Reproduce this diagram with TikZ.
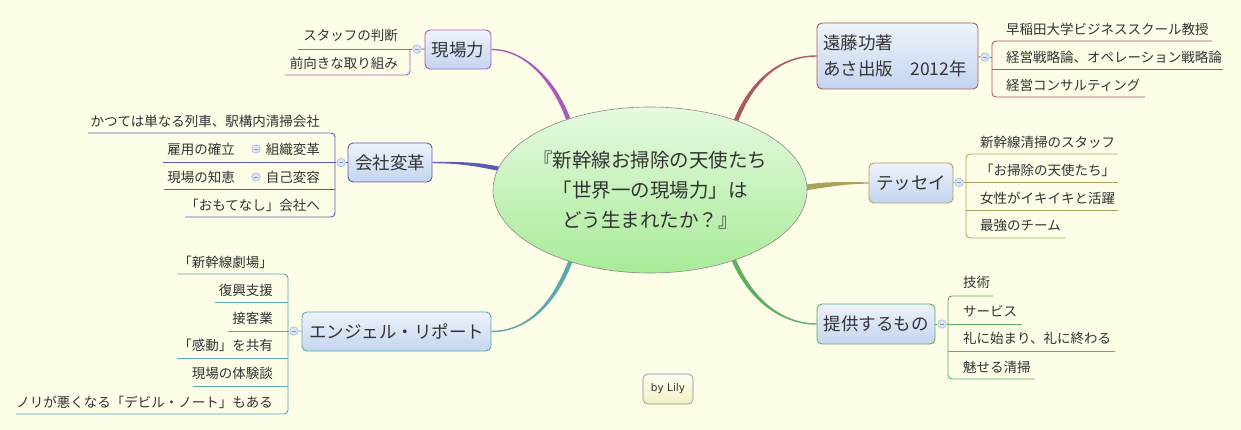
\documentclass[tikz,border=0pt]{standalone}
\usepackage{fontspec}
\newfontfamily\jp{Noto Sans CJK JP}
\newfontfamily\dv{DejaVu Sans}
\usetikzlibrary{shapes.geometric,calc}
\pgfdeclarelayer{back}
\pgfdeclarelayer{links}
\pgfsetlayers{back,links,main}
\definecolor{bgc}{HTML}{FDFDE8}
\definecolor{txt}{HTML}{333333}
\definecolor{boxtop}{HTML}{EEF3FC}
\definecolor{boxbot}{HTML}{C3D5F0}
\definecolor{cpur}{HTML}{A95BB8}
\definecolor{cred}{HTML}{AD5A5A}
\definecolor{cblu}{HTML}{5A5CB2}
\definecolor{coli}{HTML}{A8A45C}
\definecolor{ctea}{HTML}{5BA9A9}
\definecolor{cgre}{HTML}{5DAF5D}
\definecolor{colf}{HTML}{D9E4F6}
\definecolor{colb}{HTML}{A3BBE2}
\definecolor{colm}{HTML}{7E9BCB}
\definecolor{hubb}{HTML}{8A8A8A}
\definecolor{hubt}{HTML}{E6FAE1}
\definecolor{hubbot}{HTML}{A8EB98}
\definecolor{lilyt}{HTML}{FEFEF2}
\definecolor{lilyb}{HTML}{F3F0C4}
\newcommand\taperlink[7]{%
  \coordinate (tA) at ($(#2)!-3pt!(#3)$);
  \coordinate (tD) at (#5);
  \coordinate (ta1) at ($(tA)!#6!90:(#3)$);
  \coordinate (ta2) at ($(tA)!#6!-90:(#3)$);
  \coordinate (td1) at ($(tD)!#7!-90:(#4)$);
  \coordinate (td2) at ($(tD)!#7!90:(#4)$);
  \fill[#1] (ta1) .. controls ($(#3)+(ta1)-(tA)$) and ($(#4)+(td1)-(tD)$) .. (td1)
    -- (td2) .. controls ($(#4)+(td2)-(tD)$) and ($(#3)+(ta2)-(tA)$) .. (ta2) -- cycle;
}
\begin{document}
\begin{tikzpicture}[x=1pt,y=-1pt,
  topic/.style={draw=#1, line width=0.9pt, rounded corners=5pt, top color=boxtop, bottom color=boxbot,
    inner sep=0pt, text=txt, font=\jp\fontsize{17.5}{20}\selectfont, text height=15.4pt, text depth=2.1pt},
  leafL/.style={anchor=east, inner sep=0pt, text=txt, font=\jp\fontsize{13.5}{15}\selectfont, text height=11.9pt, text depth=1.6pt},
  leafR/.style={leafL, anchor=west},
  collapse/.style={circle, minimum size=8.5pt, inner sep=0pt, draw=colb, fill=colf, line width=0.6pt,
    path picture={\draw[colm, line width=0.7pt] ([xshift=-2.4pt]path picture bounding box.center) -- ([xshift=2.4pt]path picture bounding box.center);}},
  lk/.style={draw=#1, line width=0.9pt, rounded corners=4pt},
  hubstyle/.style={ellipse, draw=hubb, line width=0.6pt, minimum width=314pt, minimum height=166pt, inner sep=0pt,
    top color=hubt, bottom color=hubbot},
  hubtext/.style={inner sep=0pt, align=center, text=txt, font=\jp\fontsize{19.5}{30}\selectfont},
  lily/.style={draw=hubb, line width=0.6pt, rounded corners=5pt, top color=lilyt, bottom color=lilyb,
    minimum width=50pt, minimum height=30pt, inner sep=0pt, text=txt, font=\dv\fontsize{10.5}{12}\selectfont}
]
\begin{pgfonlayer}{back}
\fill[bgc] (0,0) rectangle (1241,430);
\end{pgfonlayer}
\useasboundingbox (0,0) rectangle (1241,430);

% central topic
\node[hubstyle] (hub) at (650,190) {};
\node[hubtext] (hubt) at (hub.center) {『新幹線お掃除の天使たち\\「世界一の現場力」は\\どう生まれたか？』};

% ---------- 現場力 ----------
\node[topic=cpur, minimum width=66pt, minimum height=39pt] (genba) at (458,49.5) {現場力};
\node[collapse] (gc) at (417,49) {};
\draw[lk=cpur] (gc) -- (genba);
\node[leafL] (g1) at (398,35) {スタッフの判断};
\node[leafL] (g2) at (398,63) {前向きな取り組み};
\draw[lk=cpur] (gc.west) -- (298,49);
\draw[lk=cpur] (410,49) -- (410,75) -- (285,75);

% ---------- 会社変革 ----------
\node[topic=cblu, minimum width=84pt, minimum height=39pt] (kaisha) at (390,162.5) {会社変革};
\node[collapse] (kc) at (341,162.5) {};
\draw[lk=cblu] (kc) -- (kaisha);
\node[leafL] (k1) at (320,121) {かつては単なる列車、駅構内清掃会社};
\node[leafL] (k2) at (320,149) {組織変革};
\node[collapse] (k2c) at (256,149) {};
\node[leafL] (k2a) at (235,149) {雇用の確立};
\node[leafL] (k3) at (320,177) {自己変容};
\node[collapse] (k3c) at (256,177) {};
\node[leafL] (k3a) at (235,177) {現場の知恵};
\node[leafL] (k4) at (320,205) {「おもてなし」会社へ};
\draw[lk=cblu] (88,133) -- (335,133) -- (335,217) -- (185,217);
\draw[lk=cblu] (kc.west) -- (163,162.5);
\draw[lk=cblu] (335,189) -- (164,189);

% ---------- エンジェル・リポート ----------
\node[topic=ctea, minimum width=189pt, minimum height=39pt] (angel) at (396.5,331.5) {エンジェル・リポート};
\node[collapse] (ac) at (294,331) {};
\draw[lk=ctea] (ac) -- (angel);
\node[leafL] (a1) at (273,262) {「新幹線劇場」};
\node[leafL] (a2) at (273,290) {復興支援};
\node[leafL] (a3) at (273,318) {接客業};
\node[leafL] (a4) at (273,345) {「感動」を共有};
\node[leafL] (a5) at (273,373) {現場の体験談};
\node[leafL] (a6) at (273,402) {ノリが悪くなる「デビル・ノート」もある};
\draw[lk=ctea] (177,274) -- (288,274) -- (288,414) -- (16,414);
\draw[lk=ctea] (288,302) -- (215,302);
\draw[lk=ctea] (ac.west) -- (228,331);
\draw[lk=ctea] (288,358) -- (177,358);
\draw[lk=ctea] (288,386) -- (193,386);

% ---------- 遠藤功著 ----------
\node[topic=cred, minimum width=161pt, minimum height=66pt, align=left, text width=149pt,
  font=\jp\fontsize{17.5}{26}\selectfont, text height=, text depth=] (endo) at (897.5,56) {遠藤功著\\あさ出版　2012年};
\node[collapse] (ec) at (985,57) {};
\draw[lk=cred] (endo) -- (ec);
\node[leafR] (e1) at (1006,29) {早稲田大学ビジネススクール教授};
\node[leafR] (e2) at (1006,57) {経営戦略論、オペレーション戦略論};
\node[leafR] (e3) at (1006,85) {経営コンサルティング};
\draw[lk=cred] (1212,41) -- (992,41) -- (992,97) -- (1145,97);
\draw[lk=cred] (992,69) -- (1223,69);
\draw[lk=cred] (ec.east) -- (992,57);

% ---------- テッセイ ----------
\node[topic=coli, minimum width=84pt, minimum height=40pt] (tessei) at (911,183) {テッセイ};
\node[collapse] (tc) at (959,182.5) {};
\draw[lk=coli] (tessei) -- (tc);
\node[leafR] (t1) at (980,142) {新幹線清掃のスタッフ};
\node[leafR] (t2) at (980,170) {「お掃除の天使たち」};
\node[leafR] (t3) at (980,198) {女性がイキイキと活躍};
\node[leafR] (t4) at (980,225) {最強のチーム};
\draw[lk=coli] (1118,154) -- (966,154) -- (966,238) -- (1065,238);
\draw[lk=coli] (tc.east) -- (1118,182.5);
\draw[lk=coli] (966,210) -- (1118,210);

% ---------- 提供するもの ----------
\node[topic=cgre, minimum width=118pt, minimum height=40pt] (teikyo) at (876,324) {提供するもの};
\node[collapse] (pc) at (942,324) {};
\draw[lk=cgre] (teikyo) -- (pc);
\node[leafR] (p1) at (963,282) {技術};
\node[leafR] (p2) at (963,311) {サービス};
\node[leafR] (p3) at (963,338) {礼に始まり、礼に終わる};
\node[leafR] (p4) at (963,367) {魅せる清掃};
\draw[lk=cgre] (993,296) -- (948,296) -- (948,379) -- (1035,379);
\draw[lk=cgre] (pc.east) -- (1022,324);
\draw[lk=cgre] (948,351) -- (1115,351);

% by Lily
\node[lily] (lily) at (668,389) {by Lily};

% ---------- tapered main connectors ----------
\begin{pgfonlayer}{links}
\taperlink{cpur}{hub.139}{557,86}{528,49.5}{genba.east}{2.2pt}{0.7pt}
\taperlink{cred}{hub.39}{749,86}{776,56}{endo.west}{2.2pt}{0.7pt}
\taperlink{cblu}{hub.172.6}{478,164}{458,162.5}{kaisha.east}{2.2pt}{0.7pt}
\taperlink{coli}{hub.1.5}{832,183.5}{848,183}{tessei.west}{2.8pt}{0.7pt}
\taperlink{ctea}{hub.222}{556,300}{530,331.5}{angel.east}{2.2pt}{0.7pt}
\taperlink{cgre}{hub.320}{750,300}{782,324}{teikyo.west}{2.2pt}{0.7pt}
\end{pgfonlayer}
\end{tikzpicture}
\end{document}
